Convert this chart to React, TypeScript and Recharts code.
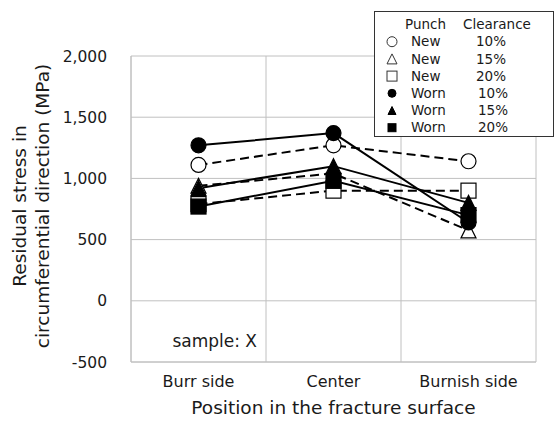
import React from "react";
import { LineChart, Line, XAxis, YAxis, CartesianGrid } from "recharts";

const categories = ["Burr side", "Center", "Burnish side"];
const yTicks = [-500, 0, 500, 1000, 1500, 2000];

// residual stress (MPa)
const new10 = [1110, 1270, 1140];
const new15 = [940, 1040, 575];
const new20 = [790, 900, 900];
const worn10 = [1270, 1370, 640];
const worn15 = [920, 1100, 800];
const worn20 = [770, 980, 700];

const series = [
  { key: "new10", punch: "New", clearance: "10%", values: new10, shape: "circle", filled: false },
  { key: "new15", punch: "New", clearance: "15%", values: new15, shape: "triangle", filled: false },
  { key: "new20", punch: "New", clearance: "20%", values: new20, shape: "square", filled: false },
  { key: "worn10", punch: "Worn", clearance: "10%", values: worn10, shape: "circle", filled: true },
  { key: "worn15", punch: "Worn", clearance: "15%", values: worn15, shape: "triangle", filled: true },
  { key: "worn20", punch: "Worn", clearance: "20%", values: worn20, shape: "square", filled: true },
];

const data = categories.map((pos, i) => {
  const row: Record<string, string | number> = { pos };
  series.forEach((s) => {
    row[s.key] = s.values[i];
  });
  return row;
});

const FONT = "DejaVu Sans, Verdana, sans-serif";
const TEXT = "#1a1a1a";
const GRID = "#c0c0c0";

function Marker({ cx, cy, shape, filled, size, stroke = "#000", sw = 1.2 }: any) {
  if (cx == null || cy == null) return null;
  const fill = filled ? "#000" : "#fff";
  const h = size / 2;
  if (shape === "circle")
    return <circle cx={cx} cy={cy} r={h} fill={fill} stroke={stroke} strokeWidth={sw} strokeDasharray="none" />;
  if (shape === "square")
    return <rect x={cx - h} y={cy - h} width={size} height={size} fill={fill} stroke={stroke} strokeWidth={sw} strokeDasharray="none" />;
  return (
    <polygon
      points={`${cx},${cy - h} ${cx + h},${cy + h} ${cx - h},${cy + h}`}
      fill={fill}
      stroke={stroke}
      strokeWidth={sw}
      strokeDasharray="none"
    />
  );
}

function YTitle(props: any) {
  const vb = props.viewBox || { y: 56, height: 306 };
  const cy = vb.y + vb.height / 2 - 3;
  const lines = ["Residual stress in", "circumferential direction (MPa)"];
  return (
    <g>
      {lines.map((t, i) => {
        const x = 26 + i * 23;
        return (
          <text
            key={t}
            x={x}
            y={cy}
            transform={`rotate(-90 ${x} ${cy})`}
            textAnchor="middle"
            fontSize={18.5}
            fontFamily={FONT}
            fill={TEXT}
          >
            {t}
          </text>
        );
      })}
    </g>
  );
}

function LegendBox() {
  const fs = 13.5;
  return (
    <svg
      width={555}
      height={422}
      style={{ position: "absolute", left: 0, top: 0, pointerEvents: "none" }}
      fontFamily={FONT}
    >
      <rect x={374.5} y={11.5} width={179} height={125} fill="#fff" stroke="#333" strokeWidth={1} />
      <text x={405} y={28.5} fontSize={fs} fill={TEXT}>Punch</text>
      <text x={463} y={28.5} fontSize={fs} fill={TEXT}>Clearance</text>
      {series.map((s, i) => {
        const cy = 41.7 + i * 17.2;
        return (
          <g key={s.key}>
            <Marker
              cx={392}
              cy={cy}
              shape={s.shape}
              filled={s.filled}
              size={s.filled ? 8 : 10}
              stroke={s.filled ? "#000" : "#333"}
              sw={1}
            />
            <text x={411} y={cy + 4.6} fontSize={fs} fill={TEXT}>{s.punch}</text>
            <text x={s.filled ? 478 : 476} y={cy + 4.6} fontSize={fs} fill={TEXT}>{s.clearance}</text>
          </g>
        );
      })}
      <text x={257} y={347} fontSize={17} textAnchor="end" fill={TEXT}>sample: X</text>
    </svg>
  );
}

export default function App() {
  return (
    <div style={{ position: "absolute", left: 0, top: 0, width: 555, height: 422, background: "#fff" }}>
      <LineChart
        width={555}
        height={422}
        data={data}
        margin={{ top: 56, right: 19, bottom: 0, left: 0 }}
        style={{ fontFamily: FONT }}
      >
        <CartesianGrid
          stroke={GRID}
          strokeWidth={1}
          horizontalPoints={undefined}
          verticalCoordinatesGenerator={(p: any) => {
            const left = p?.offset?.left ?? 131;
            const w = p?.offset?.width ?? 405;
            return categories.map((_, i) => left + (i * w) / categories.length).concat(left + w);
          }}
        />
        <XAxis
          dataKey="pos"
          type="category"
          height={60}
          padding={{ left: 67.5, right: 67.5 }}
          axisLine={{ stroke: GRID }}
          tickLine={false}
          tickMargin={8}
          interval={0}
          tick={{ fontSize: 16, fill: TEXT, fontFamily: FONT }}
          label={{
            value: "Position in the fracture surface",
            position: "insideBottom",
            offset: 8,
            style: { fontSize: 18.5, fill: TEXT, fontFamily: FONT },
          }}
        />
        <YAxis
          width={131}
          domain={[-500, 2000]}
          ticks={yTicks}
          interval={0}
          axisLine={{ stroke: GRID }}
          tickLine={false}
          tickMargin={18}
          tick={{ fontSize: 15.5, fill: TEXT, fontFamily: FONT }}
          tickFormatter={(v: number) => v.toLocaleString("en-US")}
          label={{ content: (p: any) => <YTitle {...p} /> }}
        />
        {series.map((s) => (
          <Line
            key={s.key}
            dataKey={s.key}
            type="linear"
            stroke="#000"
            strokeWidth={2}
            strokeDasharray={s.filled ? undefined : "9 5"}
            isAnimationActive={false}
            activeDot={false}
            dot={(p: any) => (
              <Marker key={`${s.key}-${p.index}`} cx={p.cx} cy={p.cy} shape={s.shape} filled={s.filled} size={15} />
            )}
          />
        ))}
      </LineChart>
      <LegendBox />
    </div>
  );
}
